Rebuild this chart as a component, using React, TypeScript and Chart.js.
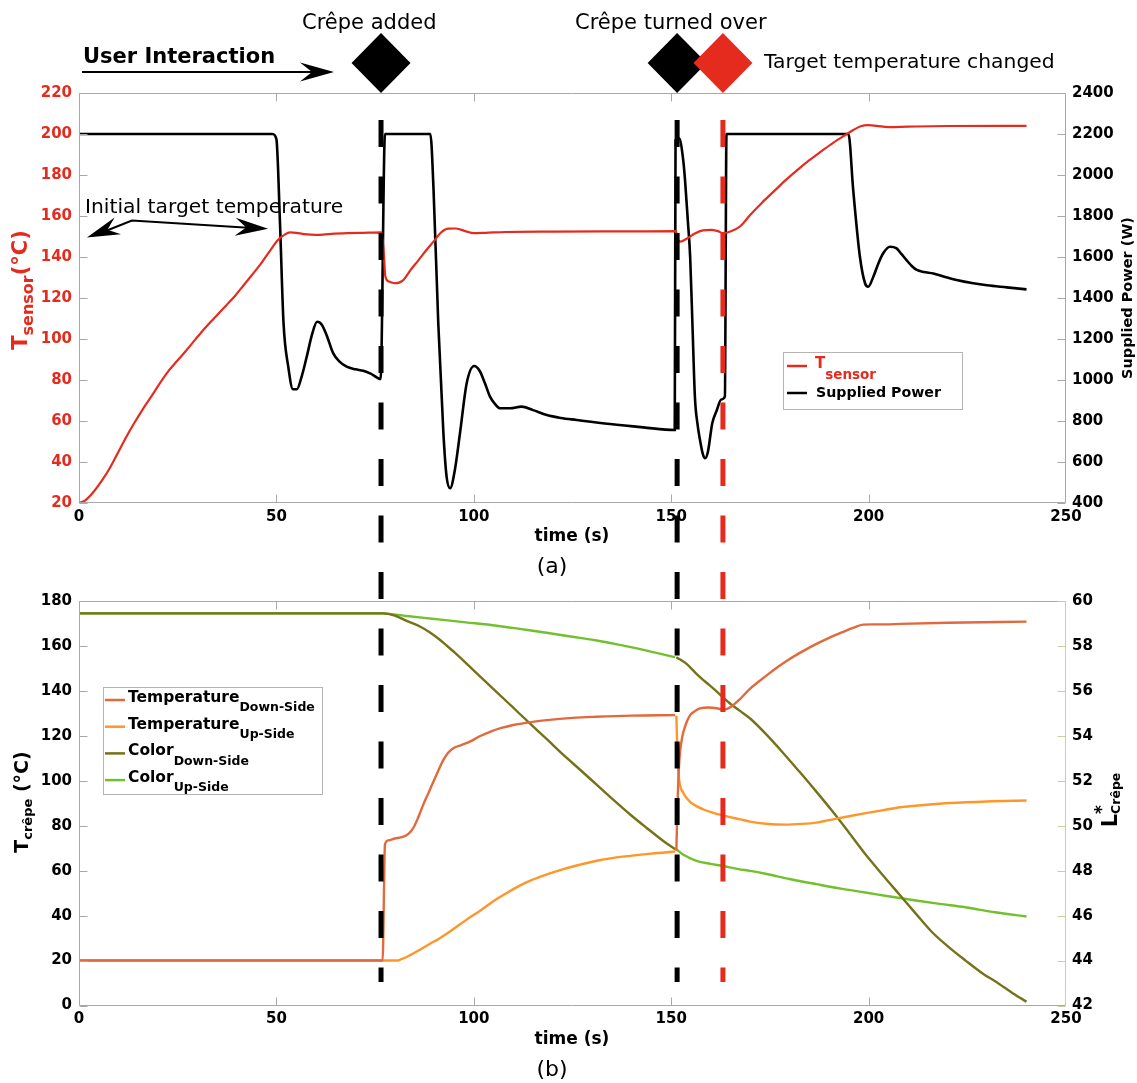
import { useEffect, useRef } from 'react';
import { Chart, registerables } from 'chart.js';

Chart.register(...registerables);

const FONT = '"DejaVu Sans", sans-serif';
const RED = '#e52b1e';
const FRAME = '#a8a8a8';
const GREEN_AXIS = '#c3d3a0';

// ---------- data (time in s, value) ----------
const tSensorSeries: [number, number][] = [
  [0, 20], [1.5, 21.2], [3.5, 25], [6, 31.5], [8, 37.7], [10, 45], [12, 52.3], [14, 59], [16.3, 66.2],
  [18.5, 72.5], [20.5, 78.5], [22.5, 84], [24.7, 89], [27, 94], [29, 98.7], [31, 103.3], [33.2, 108],
  [35.3, 112.3], [37.4, 116.6], [39.5, 121], [41.6, 126], [43.7, 131], [45.8, 136], [48, 142], [50.5, 148.5],
  [52, 150.8], [53.5, 152], [55, 151.8], [57, 151.2], [60, 150.8], [64, 151.3], [68, 151.6], [72, 151.8],
  [76.6, 152], [77.1, 145], [77.6, 130.5], [78.5, 128], [80, 127.2], [82, 128.5], [84, 133.7], [86, 138.5],
  [88, 143.4], [90, 148], [91.5, 151.6], [93.5, 153.8], [95.5, 153.9], [98, 152.5], [100, 151.6], [103, 151.8],
  [108, 152.2], [120, 152.4], [140, 152.5], [151.2, 152.6], [151.6, 149], [152.3, 147.5], [154, 149], [156, 151.5],
  [158, 153], [160, 153.2], [161.8, 152.6], [163.2, 151.6], [165, 152.4], [167.5, 155], [170, 160.5], [173, 166.5],
  [176, 172], [179, 177.5], [182, 182.5], [185, 187.2], [188, 191.5], [191, 195.7], [194, 199.4], [196, 201.8],
  [198, 203.8], [200, 204.3], [202, 204], [205, 203.4], [210, 203.6], [220, 203.9], [240, 204],
];

const powerSeries: [number, number][] = [
  [0, 2200], [49, 2200], [50, 2175], [50.9, 1770], [51.8, 1280], [53, 1065], [54.2, 955], [55.2, 955], [56.3, 1010],
  [57.7, 1115], [59, 1220], [60.3, 1284], [61.5, 1270], [62.8, 1215], [64.4, 1130], [66, 1090], [67.8, 1065],
  [70, 1052], [72, 1045], [74, 1030], [76.4, 1005], [77.5, 2200], [89, 2200], [89.8, 1930], [91, 1277], [92.3, 741],
  [93.1, 530], [94, 472], [95.2, 561], [96.5, 740], [98.2, 984], [100.1, 1068], [101.5, 1044], [102.8, 985],
  [104.1, 919], [105.5, 880], [106.6, 862], [109.2, 862], [112.1, 870], [115, 853], [118.5, 829], [122, 815],
  [126, 805], [134.5, 785], [142.9, 769], [150.9, 756], [151.1, 2171], [152, 2179], [153, 2080], [153.5, 1976],
  [154.2, 1780], [154.8, 1602], [155.4, 1260], [156, 919], [156.7, 780], [157.3, 707], [158, 640], [158.6, 618],
  [159.3, 650], [160.4, 789], [161.5, 850], [162.7, 905], [163.6, 920], [164, 2200], [194.9, 2200], [196.1, 1927],
  [197.8, 1601], [199.1, 1472], [199.9, 1455], [201.2, 1504], [202.5, 1570], [203.7, 1618], [205.4, 1650],
  [207.1, 1642], [208.3, 1615], [209.6, 1585], [211, 1555], [212.2, 1537], [214, 1527], [216.4, 1520], [219, 1505],
  [222.3, 1488], [226.5, 1472], [230, 1462], [235, 1452], [240, 1442],
];

const tempDownSeries: [number, number | null][] = [
  [0, 20], [76.9, 20], [77.5, 71.7], [78.3, 73.5], [80, 74.3], [82, 75], [83.5, 76.5], [84.7, 79.1], [86, 84],
  [87.2, 89.4], [88.5, 94.5], [89.8, 99.7], [91, 104.5], [92.3, 109.3], [93.5, 112.5], [94.8, 114.5], [97, 116],
  [99, 117.4], [101.5, 119.8], [104.1, 121.8], [107, 123.5], [110, 124.8], [114, 126], [118.5, 127], [125, 128],
  [131, 128.5], [140, 129], [151, 129.2], [151.15, null], [151.3, 68.8], [151.7, 95], [152.1, 110], [152.6, 117.5],
  [153.1, 121.8], [154, 126.5], [154.8, 129.2], [156, 131], [157.3, 132.2], [159.5, 132.6], [161.5, 132.3],
  [163, 131.8], [164, 131.9], [165.5, 133.4], [167.5, 136.5], [170, 141], [174.2, 146.9], [177, 150.6],
  [180.1, 154.3], [183.5, 157.8], [186.8, 160.9], [190, 163.6], [193.6, 166.3], [196, 168], [198.6, 169.5],
  [201, 169.6], [204, 169.6], [208, 169.8], [220, 170.3], [240, 170.8],
];

const tempUpSeries: [number, number | null][] = [
  [0, 20], [80.5, 20], [81.5, 20.5], [83, 21.6], [86, 24.5], [88.9, 27.5], [91, 29.5], [93.1, 31.9], [95.2, 34.5],
  [97.3, 37.1], [99.5, 39.8], [101.6, 42.2], [103.7, 44.8], [105.8, 47.4], [108, 49.7], [110, 51.8], [112, 53.7],
  [114.2, 55.5], [118.5, 58.3], [122.7, 60.7], [127, 62.7], [131.1, 64.4], [135, 65.6], [139.6, 66.6], [145, 67.6],
  [151, 68.5], [151.15, null], [151.3, 129], [151.5, 117.4], [151.8, 104.2], [152.2, 98.3], [153, 94.8],
  [153.9, 92.3], [155, 90.3], [156.4, 88.7], [158.5, 87], [160.7, 85.7], [162.8, 84.7], [164.9, 83.8],
  [167.5, 82.8], [170, 81.8], [174, 80.9], [179, 80.5], [183, 80.8], [186.8, 81.4], [190, 82.5], [195, 84.2],
  [200, 85.8], [204, 87], [208, 88.2], [214, 89.2], [220.6, 90.1], [230, 90.8], [240, 91.2],
];

const colorDownSeries: [number, number | null][] = [
  [0, 59.45], [77, 59.45], [80, 59.35], [83, 59.12], [86, 58.9], [88.9, 58.6], [91, 58.33], [93.1, 58.02],
  [95.2, 57.7], [97.3, 57.36], [101.5, 56.66], [105.8, 55.95], [110, 55.25], [114.2, 54.55], [118.5, 53.85],
  [122.7, 53.15], [127, 52.48], [131.1, 51.83], [135.3, 51.16], [139.6, 50.5], [143.8, 49.9], [148, 49.32],
  [151, 48.95], [151.15, null], [151.3, 57.5], [153.9, 57.2], [156.4, 56.76], [158.5, 56.43], [160.7, 56.1],
  [162.8, 55.77], [164.9, 55.44], [167.5, 55.1], [170, 54.77], [174.2, 54.04], [178.3, 53.25], [182.4, 52.42],
  [186.6, 51.55], [190.8, 50.65], [195, 49.7], [199.2, 48.73], [203.5, 47.82], [207.7, 46.96], [211.9, 46.1],
  [216.1, 45.26], [220.3, 44.6], [224.5, 44.01], [228.7, 43.45], [232.9, 42.98], [236.5, 42.55], [240, 42.17],
];

const colorUpSeries: [number, number | null][] = [
  [0, 59.45], [77, 59.45], [83, 59.33], [90, 59.2], [98, 59.05], [105.8, 58.9], [112, 58.75], [118, 58.6],
  [124.5, 58.42], [131.1, 58.24], [136, 58.08], [141, 57.9], [146, 57.7], [151, 57.5], [151.15, null],
  [151.3, 48.95], [153, 48.72], [156.4, 48.44], [160, 48.3], [163, 48.21], [167, 48.07], [170, 47.99],
  [174.2, 47.85], [180, 47.63], [186.8, 47.4], [193, 47.2], [199.2, 47.03], [205, 46.86], [212, 46.67],
  [218, 46.52], [224.5, 46.37], [232, 46.15], [240, 45.96],
];

// user interaction events (s)
const eventTimes = [76.5, 151.5, 163.1];
const eventColors = ['#000000', '#000000', RED];
const eventLabels = ['Crêpe added', 'Crêpe turned over', 'Target temperature changed'];

// axis ranges / ticks [min, max, step]
const xRange = [0, 250, 50];
const tSensorRange = [20, 220, 20];
const powerRange = [400, 2400, 200];
const tCrepeRange = [0, 180, 20];
const lStarRange = [42, 60, 2];

const toPts = (s: any[]) => s.map(([x, y]) => ({ x, y }));

// ---------- drawing helpers ----------
function drawRich(ctx: any, x: number, y: number, parts: any[], align: string, rotate: boolean) {
  ctx.save();
  ctx.translate(x, y);
  if (rotate) ctx.rotate(-Math.PI / 2);
  ctx.textBaseline = 'middle';
  ctx.textAlign = 'left';
  let total = 0;
  for (const p of parts) {
    ctx.font = p.font;
    if (!p.overlay) total += ctx.measureText(p.text).width;
  }
  let cx = align === 'center' ? -total / 2 : 0;
  for (const p of parts) {
    ctx.font = p.font;
    ctx.fillStyle = p.color;
    ctx.fillText(p.text, cx, p.dy || 0);
    if (!p.overlay) cx += ctx.measureText(p.text).width;
  }
  ctx.restore();
}

function drawFrame(chart: any, rightColor: string) {
  const { ctx, chartArea: a, scales } = chart;
  const L = Math.round(a.left) + 0.5, R = Math.round(a.right) - 0.5;
  const T = Math.round(a.top) + 0.5, B = Math.round(a.bottom) - 0.5;
  const tl = 8;
  ctx.save();
  ctx.lineWidth = 1;
  ctx.strokeStyle = FRAME;
  ctx.beginPath();
  ctx.moveTo(L, T); ctx.lineTo(R, T);
  ctx.moveTo(L, B); ctx.lineTo(R, B);
  ctx.moveTo(L, T); ctx.lineTo(L, B);
  scales.x.ticks.forEach((t: any) => {
    const px = Math.round(scales.x.getPixelForValue(t.value)) + 0.5;
    if (px < L + 2 || px > R - 2) return;
    ctx.moveTo(px, B); ctx.lineTo(px, B - tl);
    ctx.moveTo(px, T); ctx.lineTo(px, T + tl);
  });
  scales.y.ticks.forEach((t: any) => {
    const py = Math.round(scales.y.getPixelForValue(t.value)) + 0.5;
    ctx.moveTo(L, py); ctx.lineTo(L + tl, py);
  });
  ctx.stroke();
  ctx.strokeStyle = rightColor;
  ctx.beginPath();
  ctx.moveTo(R, T); ctx.lineTo(R, B);
  scales.y1.ticks.forEach((t: any) => {
    const py = Math.round(scales.y1.getPixelForValue(t.value)) + 0.5;
    ctx.moveTo(R, py); ctx.lineTo(R - tl, py);
  });
  ctx.stroke();
  ctx.restore();
}

const DASH_TOP = 120; // page y where event lines begin
const DASH_END = 982; // page y where event lines end

function drawEvents(chart: any, pageOffset: number) {
  const { ctx, scales } = chart;
  const y0 = Math.max(DASH_TOP - pageOffset, 0);
  const y1 = Math.min(DASH_END - pageOffset, chart.height);
  ctx.save();
  ctx.lineWidth = 5;
  ctx.setLineDash([27, 29.5]);
  ctx.lineDashOffset = y0 + pageOffset - DASH_TOP;
  eventTimes.forEach((t, i) => {
    const px = scales.x.getPixelForValue(t);
    ctx.strokeStyle = eventColors[i];
    ctx.beginPath();
    ctx.moveTo(px, y0);
    ctx.lineTo(px, y1);
    ctx.stroke();
  });
  ctx.restore();
}

function arrowHead(ctx: any, tipX: number, tipY: number, fromX: number, fromY: number, len: number, half: number, notch: number) {
  const ang = Math.atan2(tipY - fromY, tipX - fromX);
  const c = Math.cos(ang), s = Math.sin(ang);
  const pts = [[0, 0], [-len, -half], [-len + notch, 0], [-len, half]];
  ctx.beginPath();
  pts.forEach(([u, v], i) => {
    const X = tipX + u * c - v * s;
    const Y = tipY + u * s + v * c;
    if (i) ctx.lineTo(X, Y); else ctx.moveTo(X, Y);
  });
  ctx.closePath();
  ctx.fill();
}

function legendLine(ctx: any, x: number, y: number, color: string, w: number) {
  ctx.save();
  ctx.strokeStyle = color;
  ctx.lineWidth = w;
  ctx.beginPath();
  ctx.moveTo(x, y);
  ctx.lineTo(x + 20, y);
  ctx.stroke();
  ctx.restore();
}

const B = (s: number) => `bold ${s}px ${FONT}`;
const N = (s: number) => `${s}px ${FONT}`;

const topDecor = {
  id: 'topDecor',
  afterDraw(chart: any) {
    const { ctx, scales } = chart;
    const xs = scales.x, ys = scales.y;
    drawFrame(chart, FRAME);
    drawEvents(chart, 0);

    // diamonds
    ctx.save();
    eventTimes.forEach((t, i) => {
      const cx = xs.getPixelForValue(t);
      const cy = 63;
      ctx.fillStyle = eventColors[i];
      ctx.beginPath();
      ctx.moveTo(cx, cy - 30);
      ctx.lineTo(cx + 29.5, cy);
      ctx.lineTo(cx, cy + 30);
      ctx.lineTo(cx - 29.5, cy);
      ctx.closePath();
      ctx.fill();
    });

    // event labels
    ctx.fillStyle = '#000';
    ctx.textBaseline = 'alphabetic';
    ctx.textAlign = 'left';
    ctx.font = N(21);
    ctx.fillText(eventLabels[0], 302, 28.5);
    ctx.fillText(eventLabels[1], 575, 28.5);
    ctx.font = N(20.3);
    ctx.fillText(eventLabels[2], 764, 68);

    // user interaction
    ctx.font = B(21);
    ctx.fillText('User Interaction', 83, 62.5);
    ctx.strokeStyle = '#000';
    ctx.lineWidth = 2;
    ctx.beginPath();
    ctx.moveTo(82, 72);
    ctx.lineTo(318, 72);
    ctx.stroke();
    arrowHead(ctx, 334, 72, 82, 72, 34, 9.5, 12);

    // initial target temperature
    ctx.font = N(20.3);
    ctx.fillText('Initial target temperature', 85, 212.5);
    const p1 = [xs.getPixelForValue(2), ys.getPixelForValue(149.5)];
    const pk = [xs.getPixelForValue(13.4), ys.getPixelForValue(157.8)];
    const p2 = [xs.getPixelForValue(47.9), ys.getPixelForValue(153.8)];
    ctx.beginPath();
    ctx.moveTo(p1[0] + 20, p1[1] - 7);
    ctx.lineTo(pk[0], pk[1]);
    ctx.lineTo(p2[0] - 20, p2[1] - 1);
    ctx.stroke();
    arrowHead(ctx, p1[0], p1[1], pk[0], pk[1], 33, 9, 11);
    arrowHead(ctx, p2[0], p2[1], pk[0], pk[1], 33, 9, 11);
    ctx.restore();

    // axis titles
    drawRich(ctx, 22, 290, [
      { text: 'T', font: B(21), color: RED },
      { text: 'sensor', font: B(16), color: RED, dy: 7 },
      { text: '(°C)', font: B(21), color: RED },
    ], 'center', true);
    drawRich(ctx, 1128, 298, [
      { text: 'Supplied Power (W)', font: B(14.5), color: '#000' },
    ], 'center', true);
    drawRich(ctx, 572, 537, [{ text: 'time (s)', font: B(17), color: '#000' }], 'center', false);
    drawRich(ctx, 552, 567, [{ text: '(a)', font: N(22), color: '#000' }], 'center', false);

    // legend
    ctx.save();
    ctx.fillStyle = '#fff';
    ctx.fillRect(783.5, 352.5, 179, 57);
    ctx.strokeStyle = '#b4b4b4';
    ctx.lineWidth = 1;
    ctx.strokeRect(783.5, 352.5, 179, 57);
    ctx.restore();
    legendLine(ctx, 787, 366, chart.data.datasets[0].borderColor, 2.5);
    drawRich(ctx, 815, 364, [
      { text: 'T', font: B(15), color: RED },
      { text: 'sensor', font: B(13.5), color: RED, dy: 11 },
    ], 'left', false);
    legendLine(ctx, 787, 393, chart.data.datasets[1].borderColor, 2.5);
    drawRich(ctx, 816, 393, [{ text: chart.data.datasets[1].label, font: B(14.2), color: '#000' }], 'left', false);
  },
};

const BOT_OFFSET = 585;

const botDecor = {
  id: 'botDecor',
  afterDraw(chart: any) {
    const { ctx } = chart;
    const o = BOT_OFFSET;
    drawFrame(chart, GREEN_AXIS);
    drawEvents(chart, o);

    drawRich(ctx, 23, 802 - o, [
      { text: 'T', font: B(19), color: '#000' },
      { text: 'crêpe', font: B(13), color: '#000', dy: 6 },
      { text: ' (°C)', font: B(19), color: '#000' },
    ], 'center', true);
    drawRich(ctx, 1112, 800 - o, [
      { text: 'L', font: B(21), color: '#000' },
      { text: '*', font: B(17), color: '#000', dy: -9, overlay: true },
      { text: 'Crêpe', font: B(12.5), color: '#000', dy: 5 },
    ], 'center', true);
    drawRich(ctx, 572, 1040 - o, [{ text: 'time (s)', font: B(17), color: '#000' }], 'center', false);
    drawRich(ctx, 552, 1070 - o, [{ text: '(b)', font: N(22), color: '#000' }], 'center', false);

    // legend
    const bx = 103.5, by = 687.5 - o;
    ctx.save();
    ctx.fillStyle = '#fff';
    ctx.fillRect(bx, by, 219, 107);
    ctx.strokeStyle = '#b4b4b4';
    ctx.lineWidth = 1;
    ctx.strokeRect(bx, by, 219, 107);
    ctx.restore();
    const names = [['Temperature', 'Down-Side'], ['Temperature', 'Up-Side'], ['Color', 'Down-Side'], ['Color', 'Up-Side']];
    chart.data.datasets.forEach((ds: any, i: number) => {
      const ly = 700 - o + i * 26.7;
      legendLine(ctx, 105, ly, ds.borderColor, 2.5);
      drawRich(ctx, 128, ly - 2, [
        { text: names[i][0], font: B(15.5), color: '#000' },
        { text: names[i][1], font: B(12.5), color: '#000', dy: 10 },
      ], 'left', false);
    });
  },
};

function axisCommon(range: number[], color: string, padding: number, extra: any) {
  return {
    type: 'linear',
    min: range[0],
    max: range[1],
    grid: { display: false, drawTicks: false },
    border: { display: false },
    ticks: {
      stepSize: range[2],
      color,
      padding,
      autoSkip: false,
      maxRotation: 0,
      font: { family: FONT, size: 15, weight: 'bold' },
      callback: (v: any) => String(v),
    },
    ...extra,
  };
}

function lineDs(label: string, series: any[], color: string, axis: string, width: number) {
  return {
    label,
    data: toPts(series),
    borderColor: color,
    backgroundColor: color,
    borderWidth: width,
    pointRadius: 0,
    yAxisID: axis,
    cubicInterpolationMode: 'monotone',
    spanGaps: false,
  };
}

export default function App() {
  const topRef = useRef<HTMLCanvasElement>(null);
  const botRef = useRef<HTMLCanvasElement>(null);

  useEffect(() => {
    const c1 = new Chart(topRef.current as any, {
      type: 'line',
      data: {
        datasets: [
          lineDs('T_sensor', tSensorSeries, RED, 'y', 2.2),
          lineDs('Supplied Power', powerSeries, '#000000', 'y1', 2.6),
        ],
      } as any,
      options: {
        responsive: false,
        animation: false,
        devicePixelRatio: 1,
        events: [],
        layout: { padding: { top: 93, left: 0, right: 0, bottom: 0 } },
        plugins: { legend: { display: false }, tooltip: { enabled: false }, title: { display: false } },
        scales: {
          x: axisCommon(xRange, '#000', 5, { position: 'bottom', afterFit: (s: any) => { s.height = 82; } }),
          y: axisCommon(tSensorRange, RED, 7, { position: 'left', afterFit: (s: any) => { s.width = 79; } }),
          y1: axisCommon(powerRange, '#000', 6, { position: 'right', afterFit: (s: any) => { s.width = 71; } }),
        },
      } as any,
      plugins: [topDecor],
    });

    const c2 = new Chart(botRef.current as any, {
      type: 'line',
      data: {
        datasets: [
          lineDs('Temperature Down-Side', tempDownSeries, '#e2693b', 'y', 2.4),
          lineDs('Temperature Up-Side', tempUpSeries, '#ff962a', 'y', 2.4),
          lineDs('Color Down-Side', colorDownSeries, '#757217', 'y1', 2.4),
          lineDs('Color Up-Side', colorUpSeries, '#72c02e', 'y1', 2.4),
        ],
      } as any,
      options: {
        responsive: false,
        animation: false,
        devicePixelRatio: 1,
        events: [],
        layout: { padding: { top: 13.5, left: 0, right: 0, bottom: 0 } },
        plugins: { legend: { display: false }, tooltip: { enabled: false }, title: { display: false } },
        scales: {
          x: axisCommon(xRange, '#000', 5, { position: 'bottom', afterFit: (s: any) => { s.height = 77.5; } }),
          y: axisCommon(tCrepeRange, '#000', 7, { position: 'left', afterFit: (s: any) => { s.width = 79; } }),
          y1: axisCommon(lStarRange, '#000', 6, { position: 'right', afterFit: (s: any) => { s.width = 71; } }),
        },
      } as any,
      plugins: [botDecor],
    });

    return () => {
      c1.destroy();
      c2.destroy();
    };
  }, []);

  return (
    <div style={{ position: 'absolute', left: 0, top: 0, width: 1137, height: 1083, background: '#fff', overflow: 'hidden' }}>
      <canvas ref={topRef} width={1137} height={585} style={{ position: 'absolute', left: 0, top: 0, width: 1137, height: 585 }} />
      <canvas ref={botRef} width={1137} height={498} style={{ position: 'absolute', left: 0, top: BOT_OFFSET, width: 1137, height: 498 }} />
    </div>
  );
}
